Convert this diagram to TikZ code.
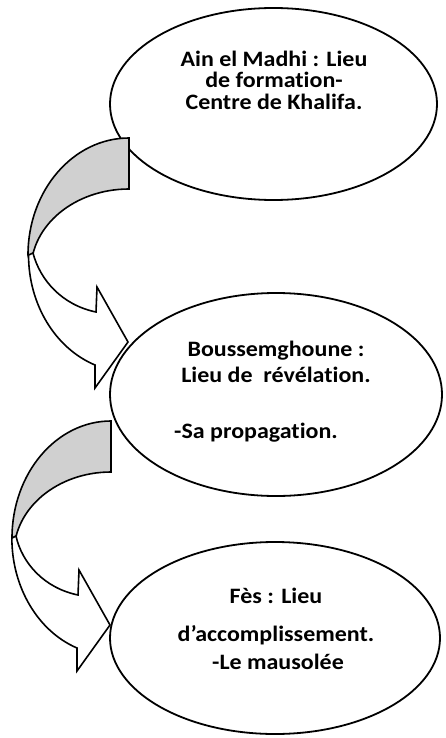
\documentclass[tikz,border=0pt]{standalone}
\usepackage{fontspec}
\setmainfont{Carlito}[FakeStretch=1.09, Ligatures=NoCommon]
\usetikzlibrary{shapes.geometric}
\definecolor{bandgrau}{RGB}{208,208,208}
\tikzset{
	ort/.style={draw, ellipse, line width=1.8pt, fill=white, inner sep=0pt},
	zeile/.style={anchor=base, inner sep=0pt, font=\bfseries\fontsize{22}{22}\selectfont},
	band/.style={draw, line width=1.6pt, line join=miter},
}

\begin{document}
\begin{tikzpicture}[x=1pt, y=1pt, yscale=-1]
	\useasboundingbox (0,0) rectangle (446,738); % Rand um Grafik
	
	% Ellipsen
	\node[ort, minimum width=327pt, minimum height=192pt] (ain) at (273.5,104) {};
	\node[ort, minimum width=332pt, minimum height=203pt] (bous) at (276,394.5) {};
	\node[ort, minimum width=330pt, minimum height=192pt] (fes) at (275,638) {};
	
	% Texte
	\node[zeile] (ain1) at (274,66.5) {Ain el Madhi : Lieu};
	\node[zeile] (ain2) at (274,88) {de formation-};
	\node[zeile] (ain3) at (274,109.5) {Centre de Khalifa.};
	
	\node[zeile] (bous1) at (276,356) {Boussemghoune :};
	\node[zeile] (bous2) at (276,382) {Lieu de~ révélation.};
	\node[zeile] (bous3) at (256,438) {-Sa propagation.};
	
	\node[zeile] (fes1) at (276,603) {Fès : Lieu};
	\node[zeile] (fes2) at (276,641) {d’accomplissement.};
	\node[zeile] (fes3) at (278,669) {-Le mausolée};
	
	% Pfeil 1: hinterer Teil grau
	\filldraw[band, fill=bandgrau] (129,138) arc[start angle=270, end angle=180, x radius=101, y radius=117] -- (31,270) arc[start angle=180, end angle=270, x radius=98, y radius=81] -- cycle;
	% vorderer Teil mit Spitze
	\filldraw[band, fill=white] (33,253) .. controls (40,280) and (62,305) .. (96,312) -- (97,287) -- (128,342) -- (95,388) -- (95,365) arc[start angle=110, end angle=180, x radius=101, y radius=117] -- cycle;
	
	% Pfeil 2
	\filldraw[band, fill=bandgrau] (111,421) arc[start angle=270, end angle=180, x radius=99, y radius=117] -- (14,553) arc[start angle=180, end angle=270, x radius=97, y radius=81] -- cycle;
	\filldraw[band, fill=white] (16,536) .. controls (22,563) and (44,588) .. (78,595) -- (79,570) -- (110,625) -- (77,671) -- (77,648) arc[start angle=110, end angle=180, x radius=99, y radius=117] -- cycle;
	
	%\draw[help lines, step=20] (0,0) grid (446,738);
\end{tikzpicture}
\end{document}
